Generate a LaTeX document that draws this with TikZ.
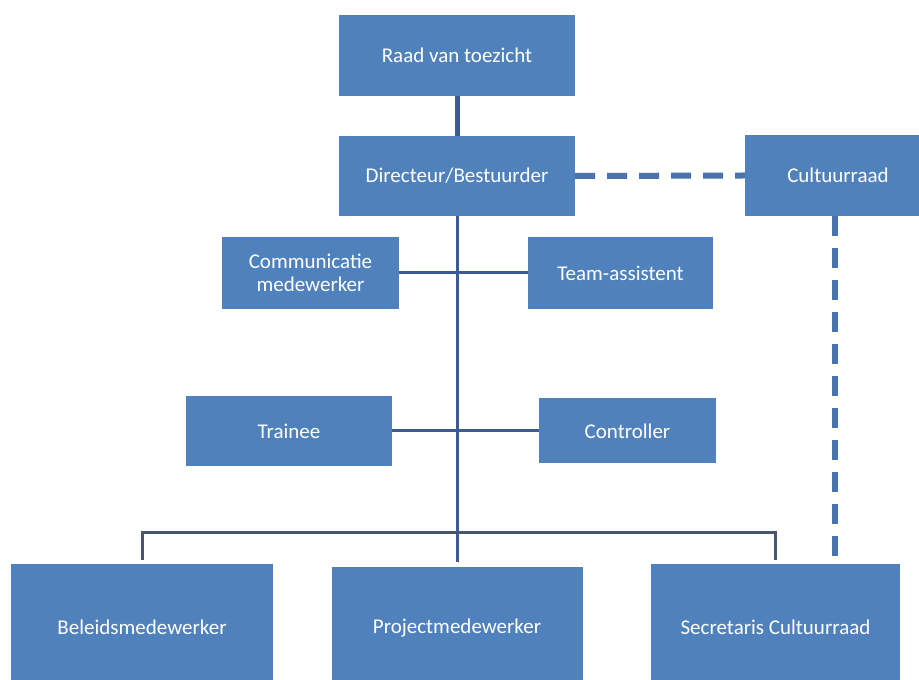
\documentclass[tikz,border=0pt]{standalone}
\usepackage{fontspec}
\setmainfont{Carlito}

\definecolor{boxblue}{HTML}{4F81BD}
\definecolor{trunkblue}{HTML}{3C5A96}
\definecolor{busgray}{HTML}{48566E}
\definecolor{dashblue}{HTML}{4A72AC}

\tikzset{
  role/.style={fill=boxblue, draw=none, text=white, inner sep=0pt, align=center,
    font=\fontsize{21}{23}\selectfont},
  trunk/.style={draw=trunkblue, line width=3pt},
  bus/.style={draw=busgray, line width=3pt},
  advice/.style={draw=dashblue, line width=6pt, dash pattern=on 20pt off 12pt}
}

\begin{document}
\begin{tikzpicture}[x=1pt,y=1pt]%[show background grid]
    \clip (0,0) rectangle (919,680);
    \fill[white] (0,0) rectangle (919,680);

    \node[role, minimum width=236pt, minimum height=81pt] (RaadVanToezicht) at (457,624.5) {Raad van toezicht};
    \node[role, minimum width=236pt, minimum height=80pt] (Directeur) at (457,504) {Directeur/Bestuurder};
    \node[role, minimum width=186pt, minimum height=81pt] (Cultuurraad) at (838,504.5) {Cultuurraad};

    \node[role, minimum width=177pt, minimum height=72pt] (Communicatie) at (310.5,407) {Communicatie\\medewerker};
    \node[role, minimum width=185pt, minimum height=72pt] (TeamAssistent) at (620.5,407) {Team-assistent};

    \node[role, minimum width=206pt, minimum height=70pt] (Trainee) at (289,249) {Trainee};
    \node[role, minimum width=177pt, minimum height=65pt] (Controller) at (627.5,249) {Controller};

    \node[role, minimum width=262pt, minimum height=126pt] (Beleid) at (142,53) {Beleidsmedewerker};
    \node[role, minimum width=251pt, minimum height=123pt] (Project) at (457,51.5) {Projectmedewerker};
    \node[role, minimum width=249pt, minimum height=126pt] (Secretaris) at (775.5,53) {Secretaris Cultuurraad};

    \draw[trunk, line width=5pt] (RaadVanToezicht) -- (Directeur);
    \draw[trunk] (Directeur.south) -- ([yshift=5pt]Project.north);
    \draw[trunk] (Communicatie.east) -- (TeamAssistent.west);
    \draw[trunk] (Trainee.east) -- (Controller.west);
    \draw[bus] ([yshift=4pt]Beleid.north) -- ++(0,27) -| ([yshift=4pt]Secretaris.north);

    \draw[advice] (Directeur.east) -- (Cultuurraad.west);
    \draw[advice] ([xshift=-3pt]Cultuurraad.south) -- ([xshift=-3pt]Cultuurraad.south |- Secretaris.north);

  \end{tikzpicture}
\end{document}
